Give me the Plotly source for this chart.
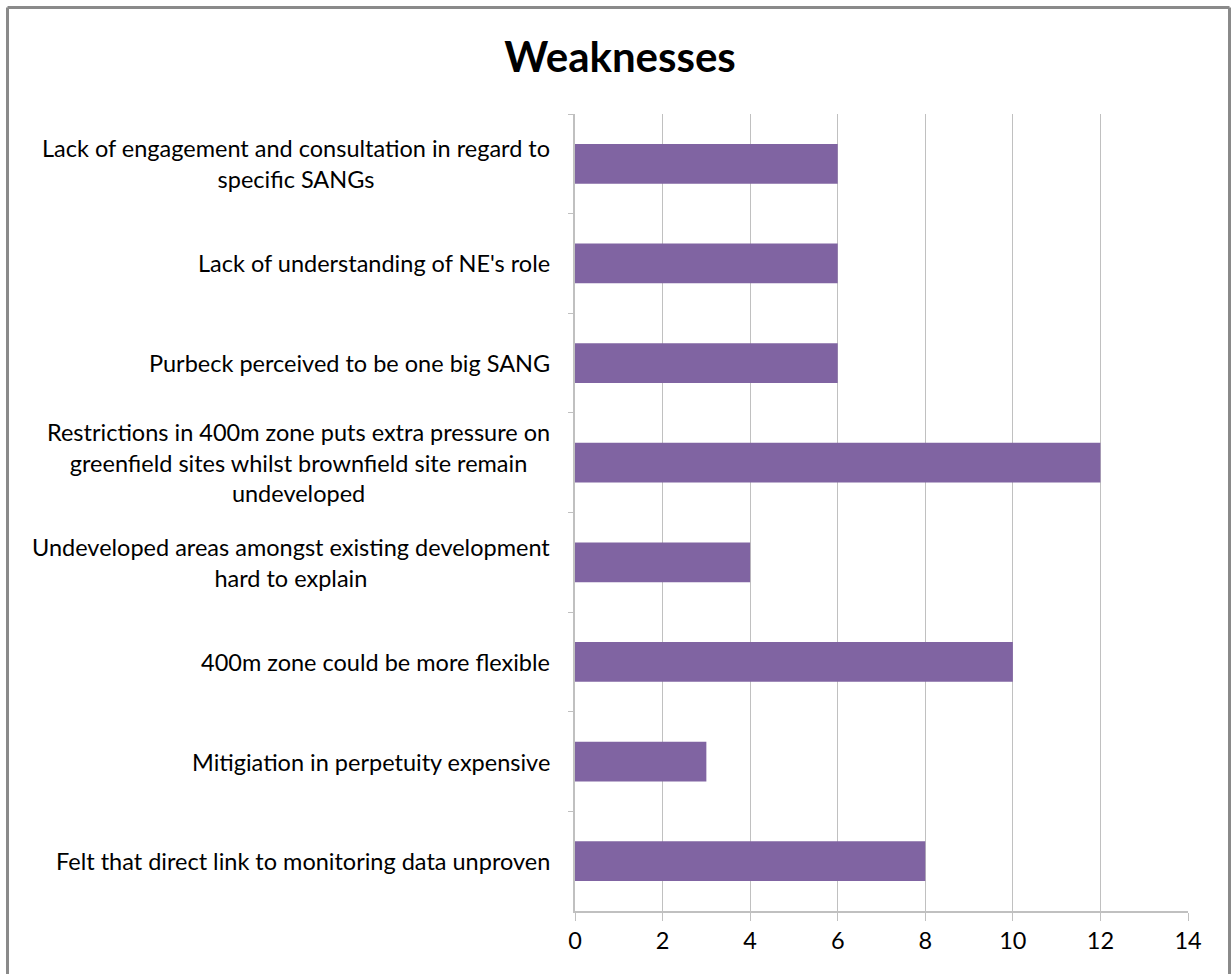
import plotly.graph_objects as go

categories = [
    "Lack of engagement and consultation in regard to<br>specific SANGs",
    "Lack of understanding of NE's role",
    "Purbeck perceived to be one big SANG",
    "Restrictions in 400m zone puts extra pressure on<br>greenfield sites whilst brownfield site remain<br>undeveloped",
    "Undeveloped areas amongst existing development<br>hard to explain",
    "400m zone could be more flexible",
    "Mitigiation in perpetuity expensive",
    "Felt that direct link to monitoring data unproven",
]
values = [6, 6, 6, 12, 4, 10, 3, 8]
x_ticks = [0, 2, 4, 6, 8, 10, 12, 14]

W, H = 1231, 974
L, R, T, B = 575, 43, 114, 63
pw, ph = W - L - R, H - T - B
FONT = "Lato"
FS = 23.5

fig = go.Figure(go.Bar(
    y=categories, x=values, orientation="h",
    marker=dict(color="#8064A2", line=dict(width=0)),
    width=0.4,
))

annotations = []
for c in categories:
    annotations.append(dict(
        x=-23 / pw, xref="paper", y=c, yref="y", text=c, showarrow=False,
        xanchor="right", yanchor="middle", align="center",
        font=dict(family=FONT, size=FS, color="#000000"),
    ))

def px(xp):
    return (xp - L) / pw

def py(yp):
    return 1 - (yp - T) / ph

shapes = [
    dict(type="line", xref="paper", yref="paper", x0=px(7.5), x1=px(7.5), y0=py(7.5), y1=py(990),
         line=dict(color="#8a8a8a", width=3)),
    dict(type="line", xref="paper", yref="paper", x0=px(7.5), x1=px(1229.5), y0=py(7.5), y1=py(7.5),
         line=dict(color="#8a8a8a", width=3)),
    dict(type="line", xref="paper", yref="paper", x0=px(1229.5), x1=px(1229.5), y0=py(7.5), y1=py(990),
         line=dict(color="#8a8a8a", width=3)),
]

fig.update_layout(
    width=W, height=H,
    margin=dict(l=L, r=R, t=T, b=B, pad=0),
    paper_bgcolor="white", plot_bgcolor="white",
    showlegend=False,
    title=dict(text="<b>Weaknesses</b>", xref="container", x=620 / W, xanchor="center",
               yref="container", y=1 - 57 / H, yanchor="middle",
               font=dict(family=FONT, size=42, color="#000000")),
    xaxis=dict(range=[0, 14], tickvals=x_ticks, ticktext=[str(v) for v in x_ticks],
               showgrid=True, gridcolor="#c0c0c0", gridwidth=1,
               showline=True, linecolor="#c0c0c0", linewidth=2,
               ticks="outside", ticklen=8, tickcolor="#c0c0c0", tickwidth=1,
               zeroline=False, tickfont=dict(family=FONT, size=FS, color="#000000")),
    yaxis=dict(categoryorder="array", categoryarray=categories, autorange="reversed",
               range=[7.5, -0.5], showticklabels=False,
               showgrid=False, showline=True, linecolor="#c0c0c0", linewidth=2,
               ticks="outside", ticklen=5, tickcolor="#c0c0c0", tickson="boundaries",
               zeroline=False),
    annotations=annotations,
    shapes=shapes,
    bargap=0.6,
)

fig.write_html("out.html")
